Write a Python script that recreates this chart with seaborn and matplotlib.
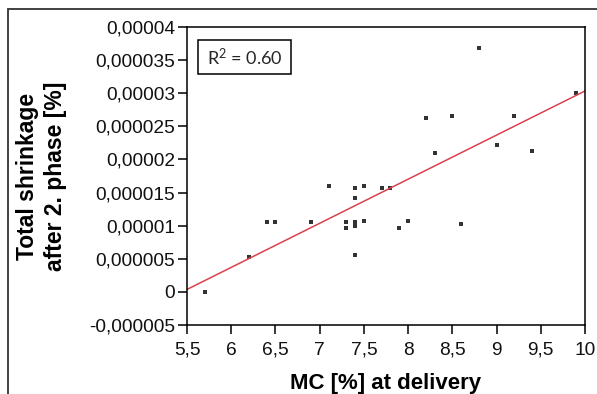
import numpy as np
import pandas as pd
import seaborn as sns
import matplotlib.pyplot as plt
from matplotlib.ticker import FuncFormatter, MultipleLocator
from matplotlib.patches import Rectangle

# MC at delivery [%] and total shrinkage after 2. phase [%]
mc = [5.7, 6.2, 6.4, 6.5, 6.9, 7.1, 7.3, 7.3, 7.4, 7.4, 7.4, 7.4, 7.4, 7.5,
      7.5, 7.7, 7.8, 7.9, 8.0, 8.2, 8.3, 8.5, 8.6, 8.8, 9.0, 9.2, 9.4, 9.9]
shrinkage = [0.0, 5.2e-6, 10.5e-6, 10.5e-6, 10.5e-6, 16.0e-6, 10.5e-6,
             9.7e-6, 15.7e-6, 14.2e-6, 10.5e-6, 10.0e-6, 5.5e-6, 16.0e-6,
             10.7e-6, 15.7e-6, 15.7e-6, 9.7e-6, 10.7e-6, 26.2e-6, 20.9e-6,
             26.5e-6, 10.2e-6, 36.9e-6, 22.2e-6, 26.5e-6, 21.2e-6, 30.0e-6]
r2_text = r'R$^{2}$ = 0.60'

sns.set_theme(style='ticks')
plt.rcParams['font.family'] = ['Liberation Sans', 'DejaVu Sans']
plt.rcParams['mathtext.fontset'] = 'custom'
plt.rcParams['mathtext.rm'] = 'Lato'
plt.rcParams['mathtext.it'] = 'Lato'
plt.rcParams['mathtext.default'] = 'rm'


def comma_y(v, pos):
    s = '{:.6f}'.format(v).rstrip('0').rstrip('.')
    if s in ('-0', ''):
        s = '0'
    return s.replace('.', ',')


def comma_x(v, pos):
    return '{:g}'.format(round(v, 2)).replace('.', ',')


def main():
    data = pd.DataFrame({'MC': mc, 'shrink': shrinkage})
    fig = plt.figure(figsize=(5.97, 3.94), dpi=100)
    ax = fig.add_axes([187 / 597, 1 - 325 / 394, 398 / 597, 298 / 394])
    ax.set_xlim(5.5, 10)
    ax.set_ylim(-0.000005, 0.00004)

    # scatter + least squares line over the full x range
    sns.regplot(x='MC', y='shrink', data=data, ax=ax, ci=None,
                truncate=False, marker='s',
                scatter_kws={'s': 6, 'color': 'black', 'linewidths': 0},
                line_kws={'color': '#d9434b', 'linewidth': 1.1})
    ax.set_xlim(5.5, 10)
    ax.set_ylim(-0.000005, 0.00004)

    ax.xaxis.set_major_locator(MultipleLocator(0.5))
    ax.yaxis.set_major_locator(MultipleLocator(0.000005))
    ax.xaxis.set_major_formatter(FuncFormatter(comma_x))
    ax.yaxis.set_major_formatter(FuncFormatter(comma_y))
    ax.tick_params(axis='both', direction='out', length=6.5, width=1.1,
                   color='black', labelsize=13.8, labelcolor='#111111')
    ax.tick_params(axis='x', pad=5.5)
    ax.tick_params(axis='y', pad=2)
    ax.yaxis.get_offset_text().set_visible(False)
    for sp in ax.spines.values():
        sp.set_visible(True)
        sp.set_linewidth(1.1)
        sp.set_color('black')

    ax.set_xlabel('MC [%] at delivery', fontsize=16, fontweight='bold',
                  labelpad=10, color='black')
    ax.set_ylabel('Total shrinkage\nafter 2. phase [%]', fontsize=16.5,
                  fontweight='bold', labelpad=16, color='black',
                  linespacing=1.25)

    # R² box
    ax.add_patch(Rectangle((0.0276, 0.8423), 0.2337, 0.1141,
                           transform=ax.transAxes, fill=False,
                           ec='black', lw=1.1, zorder=5))
    ax.text(0.1445, 0.8993, r2_text, transform=ax.transAxes, fontsize=13,
            family=['Lato', 'DejaVu Sans'], va='center', ha='center',
            zorder=6)

    # outer frame around the whole chart
    fig.patches.append(Rectangle((8 / 597, -0.05), 1.2, 1 - 9 / 394 + 0.05,
                                 transform=fig.transFigure, fill=False,
                                 ec='#333333', lw=1.3))
    fig.savefig('out.png', dpi=100)


if __name__ == '__main__':
    main()
